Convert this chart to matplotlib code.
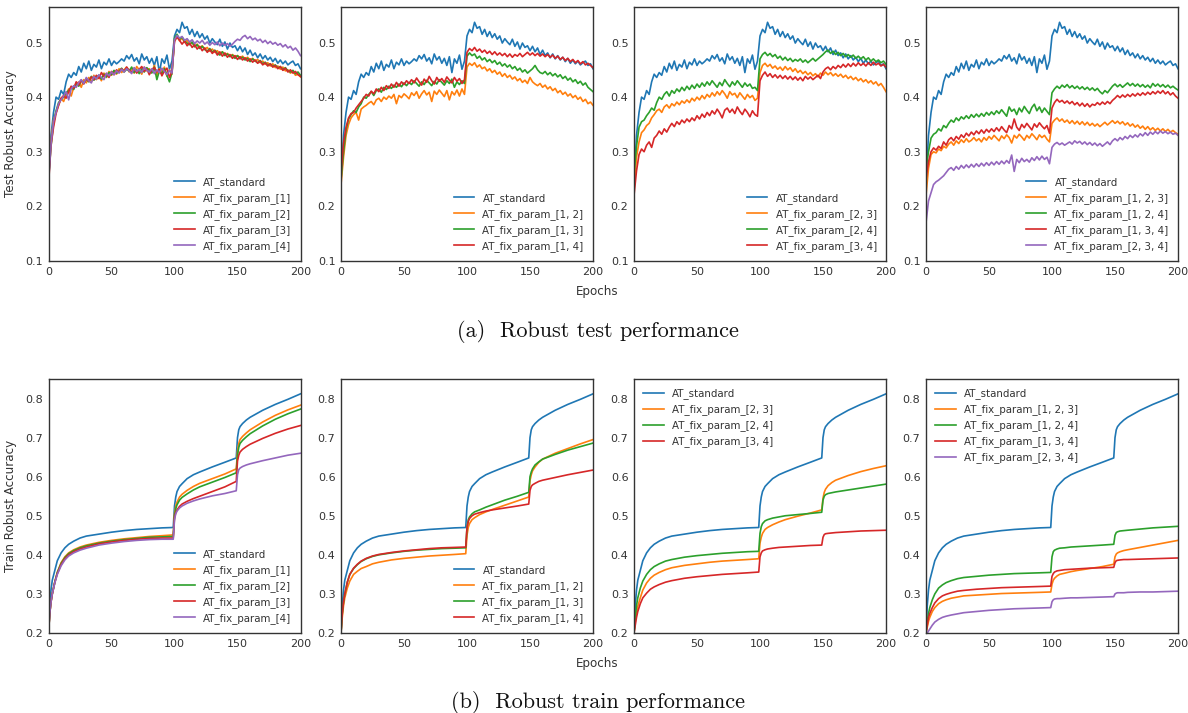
import numpy as np
import matplotlib
matplotlib.use("Agg")
import matplotlib.pyplot as plt

# ---------------- data ----------------
epochs_test = np.arange(0, 201, 2)
epochs_train = [0, 1, 2, 3, 5, 7, 10, 13, 16, 20, 25, 30, 40, 50, 60, 70, 80, 90, 99,
                100, 101, 102, 104, 106, 110, 115, 120, 130, 140, 149,
                150, 151, 152, 154, 157, 160, 170, 180, 190, 200]

test_standard = [
    .245, .330, .372, .400, .396, .412, .405, .428, .442, .436, .445, .440, .456, .446, .462, .452, .466, .449, .460, .455,
    .468, .452, .464, .459, .470, .458, .466, .461, .465, .470, .466, .476, .470, .478, .466, .472, .461, .479, .468, .474,
    .462, .471, .458, .474, .445, .470, .462, .477, .451, .466,
    .512, .524, .518, .537, .526, .529, .515, .524, .511, .520, .509, .516, .506, .512, .499, .507, .501, .496, .506, .493,
    .501, .488, .499, .491, .494, .485, .493, .483, .490, .478, .486, .476, .481, .472, .479, .470, .476, .468, .473, .465,
    .471, .462, .468, .461, .466, .459, .463, .466, .458, .461, .452]

test_fix_1 = [
    .265, .320, .358, .372, .385, .398, .392, .405, .415, .402, .418, .422, .428, .418, .432, .426, .436, .428, .440, .432,
    .438, .430, .444, .436, .447, .440, .448, .442, .452, .445, .450, .455, .446, .452, .444, .456, .450, .442, .455, .448,
    .452, .446, .458, .440, .452, .447, .455, .438, .450, .442,
    .505, .512, .503, .508, .500, .504, .497, .500, .493, .497, .490, .494, .488, .491, .484, .488, .482, .485, .479, .483,
    .477, .480, .475, .478, .474, .476, .472, .475, .470, .473, .468, .471, .466, .469, .463, .466, .460, .463, .457, .461,
    .454, .457, .451, .455, .448, .450, .444, .447, .440, .442, .437]

test_fix_2 = [
    .250, .310, .352, .375, .390, .396, .400, .408, .412, .418, .414, .425, .420, .430, .426, .433, .428, .438, .431, .436,
    .440, .433, .442, .437, .445, .441, .449, .444, .447, .453, .446, .451, .448, .455, .445, .450, .443, .452, .446, .454,
    .449, .444, .455, .432, .448, .443, .452, .440, .428, .445,
    .508, .515, .506, .510, .502, .499, .496, .501, .492, .496, .489, .493, .487, .484, .489, .482, .486, .480, .477, .483,
    .476, .479, .474, .477, .471, .476, .470, .473, .468, .471, .465, .470, .466, .463, .467, .461, .464, .458, .461, .456,
    .459, .453, .456, .450, .454, .448, .446, .449, .443, .446, .440]

test_fix_3 = [
    .240, .312, .345, .370, .385, .398, .403, .398, .410, .420, .416, .428, .422, .431, .424, .434, .429, .437, .432, .440,
    .434, .445, .438, .443, .436, .447, .441, .450, .445, .452, .447, .455, .449, .446, .453, .444, .451, .456, .447, .452,
    .441, .450, .454, .446, .451, .439, .448, .453, .436, .447,
    .502, .510, .504, .497, .503, .494, .499, .491, .496, .488, .493, .485, .490, .482, .487, .480, .485, .477, .483, .475,
    .481, .473, .478, .471, .476, .469, .474, .468, .472, .466, .470, .464, .468, .462, .466, .459, .463, .457, .461, .455,
    .458, .452, .456, .449, .453, .446, .450, .444, .447, .441, .438]

test_fix_4 = [
    .245, .315, .355, .372, .388, .395, .402, .410, .395, .415, .421, .418, .427, .432, .425, .436, .430, .426, .438, .433,
    .441, .436, .432, .444, .439, .446, .441, .448, .444, .451, .446, .452, .448, .443, .454, .447, .451, .445, .455, .449,
    .446, .452, .443, .450, .445, .453, .447, .441, .449, .444,
    .505, .513, .508, .511, .504, .507, .501, .505, .498, .503, .499, .504, .497, .501, .495, .500, .496, .501, .494, .499,
    .495, .498, .493, .497, .502, .506, .504, .510, .513, .507, .511, .505, .508, .503, .506, .500, .504, .498, .502, .497,
    .500, .495, .498, .492, .496, .490, .493, .486, .490, .484, .476]

test_fix_12 = [
    .240, .290, .330, .350, .362, .368, .372, .358, .378, .382, .385, .389, .392, .386, .395, .398, .392, .400, .396, .402,
    .398, .405, .388, .403, .399, .406, .402, .397, .408, .403, .410, .398, .406, .412, .404, .409, .392, .411, .405, .413,
    .407, .401, .412, .395, .410, .404, .413, .402, .415, .405,
    .455, .462, .458, .463, .455, .459, .452, .455, .448, .452, .445, .449, .442, .446, .438, .443, .436, .440, .433, .437,
    .430, .434, .427, .431, .425, .436, .428, .424, .421, .425, .418, .422, .415, .419, .412, .416, .408, .412, .405, .409,
    .402, .406, .399, .403, .396, .400, .392, .396, .388, .391, .385]

test_fix_13 = [
    .250, .300, .340, .360, .368, .375, .372, .382, .388, .400, .398, .405, .410, .403, .412, .415, .409, .418, .414, .420,
    .416, .422, .418, .424, .419, .426, .421, .427, .423, .430, .425, .420, .428, .423, .431, .426, .421, .429, .424, .432,
    .427, .422, .430, .425, .433, .418, .428, .423, .430, .425,
    .475, .481, .476, .479, .471, .475, .468, .472, .465, .469, .463, .467, .460, .464, .457, .461, .455, .459, .452, .456,
    .449, .453, .446, .450, .444, .448, .452, .458, .450, .445, .443, .447, .441, .445, .439, .443, .437, .441, .434, .438,
    .431, .435, .428, .432, .425, .429, .422, .426, .418, .414, .410]

test_fix_14 = [
    .260, .315, .345, .362, .370, .372, .380, .386, .392, .398, .405, .402, .411, .406, .415, .410, .418, .412, .421, .416,
    .424, .418, .427, .420, .428, .423, .430, .425, .432, .426, .435, .428, .422, .433, .427, .438, .430, .424, .436, .429,
    .434, .427, .437, .431, .426, .436, .429, .434, .425, .432,
    .482, .489, .485, .491, .484, .488, .482, .486, .480, .484, .478, .483, .477, .481, .476, .480, .474, .479, .473, .478,
    .475, .480, .474, .478, .482, .477, .481, .476, .480, .475, .479, .474, .478, .473, .477, .471, .475, .469, .473, .467,
    .471, .465, .469, .463, .467, .461, .465, .459, .462, .458, .454]

test_fix_23 = [
    .230, .290, .318, .335, .340, .348, .352, .362, .368, .375, .378, .372, .382, .386, .380, .388, .384, .391, .386, .393,
    .389, .395, .390, .398, .393, .400, .395, .403, .397, .405, .400, .408, .402, .410, .404, .412, .406, .398, .410, .404,
    .407, .399, .408, .402, .396, .405, .399, .403, .394, .398,
    .445, .458, .462, .456, .460, .453, .457, .451, .455, .449, .456, .450, .454, .447, .452, .445, .449, .443, .447, .441,
    .445, .439, .443, .437, .444, .440, .446, .441, .445, .439, .443, .438, .442, .436, .440, .434, .438, .432, .436, .430,
    .434, .428, .432, .426, .430, .424, .428, .421, .425, .418, .410]

test_fix_24 = [
    .260, .310, .345, .355, .358, .366, .372, .380, .376, .390, .400, .396, .405, .410, .402, .412, .407, .415, .410, .418,
    .412, .420, .414, .422, .416, .424, .418, .426, .420, .428, .422, .430, .424, .418, .427, .421, .432, .425, .419, .428,
    .422, .430, .424, .418, .426, .420, .424, .416, .418, .412,
    .470, .478, .482, .476, .480, .474, .478, .471, .475, .468, .473, .467, .471, .465, .469, .466, .470, .464, .468, .463,
    .467, .471, .466, .470, .474, .478, .483, .486, .480, .484, .478, .482, .476, .480, .474, .478, .473, .477, .471, .475,
    .470, .474, .468, .472, .466, .470, .465, .468, .463, .466, .460]

test_fix_34 = [
    .220, .265, .295, .305, .300, .312, .318, .308, .325, .330, .338, .332, .342, .336, .345, .352, .346, .355, .350, .358,
    .353, .360, .355, .362, .357, .366, .360, .369, .363, .372, .366, .375, .369, .378, .371, .362, .376, .380, .372, .378,
    .370, .382, .374, .368, .378, .372, .364, .375, .368, .365,
    .430, .440, .446, .438, .443, .436, .441, .435, .440, .434, .439, .433, .438, .432, .437, .431, .436, .430, .438, .433,
    .437, .432, .436, .440, .434, .446, .452, .455, .450, .456, .452, .458, .454, .460, .455, .461, .456, .462, .457, .463,
    .458, .462, .457, .463, .458, .464, .459, .462, .457, .460, .455]

test_fix_123 = [
    .220, .270, .295, .300, .298, .305, .302, .310, .307, .314, .318, .312, .320, .315, .322, .317, .324, .318, .321, .326,
    .320, .324, .318, .326, .321, .328, .323, .330, .325, .320, .329, .324, .331, .326, .316, .330, .325, .332, .327, .321,
    .330, .325, .333, .328, .322, .331, .326, .330, .323, .318,
    .352, .358, .362, .356, .360, .354, .358, .352, .357, .351, .356, .350, .355, .349, .354, .348, .352, .347, .351, .346,
    .350, .354, .349, .353, .357, .352, .356, .351, .355, .349, .353, .347, .351, .345, .349, .343, .347, .341, .346, .340,
    .344, .339, .343, .338, .342, .337, .341, .336, .339, .335, .332]

test_fix_124 = [
    .270, .300, .325, .332, .335, .342, .338, .348, .344, .352, .358, .354, .362, .357, .364, .360, .366, .361, .368, .363,
    .369, .364, .370, .365, .372, .367, .373, .368, .375, .370, .377, .371, .365, .382, .374, .378, .368, .380, .373, .383,
    .376, .370, .381, .387, .375, .382, .372, .380, .374, .368,
    .408, .415, .420, .416, .422, .418, .423, .417, .421, .416, .420, .415, .419, .414, .418, .413, .417, .412, .416, .410,
    .406, .412, .408, .414, .420, .424, .419, .423, .418, .422, .426, .421, .425, .420, .424, .419, .423, .418, .422, .417,
    .425, .420, .424, .419, .423, .418, .422, .417, .420, .416, .413]

test_fix_134 = [
    .250, .282, .300, .307, .303, .310, .306, .318, .312, .322, .326, .320, .328, .323, .331, .326, .334, .329, .336, .331,
    .338, .333, .340, .334, .341, .336, .342, .337, .344, .338, .346, .340, .335, .348, .342, .360, .345, .339, .350, .344,
    .352, .346, .340, .351, .345, .353, .347, .342, .348, .334,
    .380, .390, .396, .391, .394, .389, .393, .388, .392, .386, .390, .384, .389, .383, .388, .382, .387, .385, .390, .386,
    .391, .387, .392, .388, .394, .398, .403, .399, .404, .400, .405, .401, .406, .402, .407, .403, .408, .404, .409, .405,
    .410, .406, .411, .407, .412, .406, .410, .404, .408, .402, .398]

test_fix_234 = [
    .170, .210, .225, .240, .245, .248, .252, .256, .262, .268, .271, .266, .273, .268, .275, .270, .276, .271, .277, .272,
    .278, .273, .279, .274, .280, .275, .281, .276, .282, .277, .283, .278, .284, .279, .294, .264, .286, .280, .288, .282,
    .286, .281, .289, .284, .291, .285, .292, .286, .290, .278,
    .308, .314, .317, .313, .316, .312, .315, .318, .314, .320, .316, .319, .314, .318, .313, .317, .312, .316, .311, .315,
    .310, .314, .318, .313, .320, .324, .320, .326, .322, .328, .324, .330, .326, .331, .327, .333, .329, .335, .330, .336,
    .332, .337, .333, .338, .334, .337, .333, .336, .332, .334, .330]

train_standard = [.200, .270, .310, .335, .360, .385, .405, .418, .427, .435, .443, .448, .453, .458, .462, .465, .467, .469, .470,
                  .525, .548, .562, .575, .582, .595, .605, .612, .625, .637, .648,
                  .700, .720, .728, .736, .745, .752, .770, .785, .798, .812]
train_fix_1 = [.200, .250, .280, .300, .330, .355, .380, .395, .405, .413, .420, .425, .432, .437, .441, .444, .447, .449, .451,
               .505, .525, .535, .548, .555, .565, .575, .583, .595, .607, .620,
               .665, .685, .695, .703, .712, .720, .740, .757, .771, .783]
train_fix_2 = [.200, .250, .280, .300, .330, .355, .378, .393, .403, .411, .418, .423, .430, .435, .439, .442, .445, .446, .447,
               .500, .518, .528, .540, .547, .556, .566, .574, .586, .598, .610,
               .655, .675, .685, .693, .702, .710, .730, .747, .761, .773]
train_fix_3 = [.200, .250, .280, .300, .330, .352, .375, .390, .400, .408, .415, .420, .428, .433, .437, .440, .442, .443, .443,
               .495, .508, .515, .524, .530, .537, .544, .550, .562, .574, .588,
               .640, .655, .663, .670, .677, .683, .698, .711, .722, .731]
train_fix_4 = [.200, .250, .280, .300, .328, .350, .372, .387, .397, .405, .412, .417, .425, .430, .434, .437, .439, .440, .440,
               .490, .505, .512, .520, .525, .532, .538, .543, .551, .557, .564,
               .605, .618, .622, .626, .630, .633, .641, .648, .655, .660]
train_fix_12 = [.200, .240, .270, .290, .315, .333, .350, .358, .365, .370, .377, .381, .387, .391, .394, .397, .399, .401, .403,
                .450, .470, .480, .490, .495, .503, .510, .516, .527, .538, .548,
                .590, .605, .615, .625, .637, .645, .660, .672, .684, .695]
train_fix_13 = [.200, .250, .280, .300, .330, .350, .365, .375, .383, .390, .396, .400, .405, .409, .412, .414, .416, .417, .418,
                .470, .490, .497, .505, .510, .515, .522, .528, .540, .550, .560,
                .600, .612, .620, .630, .638, .645, .657, .668, .677, .686]
train_fix_14 = [.200, .250, .280, .300, .330, .350, .366, .376, .384, .391, .397, .401, .406, .410, .413, .416, .418, .419, .420,
                .470, .485, .493, .500, .504, .508, .512, .515, .520, .525, .530,
                .565, .575, .579, .583, .588, .591, .598, .605, .611, .617]
train_fix_23 = [.200, .230, .250, .268, .290, .310, .328, .340, .348, .355, .362, .367, .373, .377, .381, .384, .386, .388, .390,
                .430, .445, .455, .465, .470, .477, .484, .490, .499, .507, .515,
                .545, .560, .568, .577, .585, .591, .603, .613, .621, .628]
train_fix_24 = [.200, .240, .270, .290, .315, .333, .350, .362, .370, .377, .384, .388, .394, .398, .401, .404, .406, .408, .409,
                .455, .472, .480, .487, .490, .494, .497, .500, .503, .506, .509,
                .540, .550, .554, .557, .559, .561, .566, .571, .576, .581]
train_fix_34 = [.200, .220, .240, .255, .275, .290, .302, .312, .318, .324, .330, .334, .340, .344, .347, .350, .352, .354, .356,
                .395, .405, .410, .413, .415, .417, .419, .420, .422, .424, .425,
                .445, .452, .454, .455, .456, .457, .459, .461, .462, .463]
train_fix_123 = [.200, .215, .230, .240, .255, .265, .275, .281, .285, .289, .292, .295, .297, .299, .301, .302, .303, .304, .305,
                 .325, .335, .340, .346, .350, .353, .357, .360, .365, .370, .376,
                 .395, .402, .405, .408, .411, .413, .419, .425, .431, .437]
train_fix_124 = [.200, .230, .250, .265, .285, .300, .315, .323, .329, .334, .339, .342, .345, .348, .350, .352, .353, .354, .355,
                 .395, .408, .412, .415, .417, .418, .420, .421, .423, .425, .427,
                 .450, .457, .459, .461, .462, .463, .466, .469, .471, .473]
train_fix_134 = [.200, .220, .240, .250, .265, .277, .288, .295, .299, .303, .307, .309, .312, .314, .316, .317, .318, .319, .320,
                 .345, .352, .356, .359, .360, .362, .363, .364, .366, .367, .368,
                 .380, .385, .386, .387, .388, .388, .389, .390, .391, .392]
train_fix_234 = [.190, .200, .205, .210, .220, .228, .235, .240, .243, .246, .249, .252, .255, .258, .260, .262, .263, .264, .265,
                 .280, .285, .287, .288, .288, .289, .290, .290, .291, .292, .293,
                 .300, .302, .303, .303, .303, .304, .305, .305, .306, .307]

test_panels = [
    [("AT_standard", test_standard), ("AT_fix_param_[1]", test_fix_1), ("AT_fix_param_[2]", test_fix_2),
     ("AT_fix_param_[3]", test_fix_3), ("AT_fix_param_[4]", test_fix_4)],
    [("AT_standard", test_standard), ("AT_fix_param_[1, 2]", test_fix_12), ("AT_fix_param_[1, 3]", test_fix_13),
     ("AT_fix_param_[1, 4]", test_fix_14)],
    [("AT_standard", test_standard), ("AT_fix_param_[2, 3]", test_fix_23), ("AT_fix_param_[2, 4]", test_fix_24),
     ("AT_fix_param_[3, 4]", test_fix_34)],
    [("AT_standard", test_standard), ("AT_fix_param_[1, 2, 3]", test_fix_123), ("AT_fix_param_[1, 2, 4]", test_fix_124),
     ("AT_fix_param_[1, 3, 4]", test_fix_134), ("AT_fix_param_[2, 3, 4]", test_fix_234)],
]
train_panels = [
    [("AT_standard", train_standard), ("AT_fix_param_[1]", train_fix_1), ("AT_fix_param_[2]", train_fix_2),
     ("AT_fix_param_[3]", train_fix_3), ("AT_fix_param_[4]", train_fix_4)],
    [("AT_standard", train_standard), ("AT_fix_param_[1, 2]", train_fix_12), ("AT_fix_param_[1, 3]", train_fix_13),
     ("AT_fix_param_[1, 4]", train_fix_14)],
    [("AT_standard", train_standard), ("AT_fix_param_[2, 3]", train_fix_23), ("AT_fix_param_[2, 4]", train_fix_24),
     ("AT_fix_param_[3, 4]", train_fix_34)],
    [("AT_standard", train_standard), ("AT_fix_param_[1, 2, 3]", train_fix_123), ("AT_fix_param_[1, 2, 4]", train_fix_124),
     ("AT_fix_param_[1, 3, 4]", train_fix_134), ("AT_fix_param_[2, 3, 4]", train_fix_234)],
]
train_legend_loc = ["lower right", "lower right", "upper left", "upper left"]

colors = ["#1f77b4", "#ff7f0e", "#2ca02c", "#d62728", "#9467bd"]

# ---------------- figure ----------------
W, H = 1188, 713
fig = plt.figure(figsize=(W / 100, H / 100), dpi=100)
txt_col = "#333333"
plt.rcParams["font.family"] = "DejaVu Sans"

col_left = [48.5, 341, 634, 926]
col_w = 252
row_top = [7, 379]
row_h = 254


def make_ax(col, row):
    l = col_left[col] / W
    b = 1 - (row_top[row] + row_h) / H
    ax = fig.add_axes([l, b, col_w / W, row_h / H])
    for s in ax.spines.values():
        s.set_color("#333333")
        s.set_linewidth(1.0)
    ax.tick_params(length=0, labelsize=8, colors=txt_col, pad=4)
    ax.set_xlim(0, 200)
    ax.set_xticks([0, 50, 100, 150, 200])
    return ax


for c, series in enumerate(test_panels):
    ax = make_ax(c, 0)
    for k, (name, vals) in enumerate(series):
        ax.plot(2 * np.arange(len(vals)), vals, color=colors[k], lw=1.2, label=name)
    ax.set_ylim(0.1, 0.565)
    ax.set_yticks([0.1, 0.2, 0.3, 0.4, 0.5])
    ax.legend(loc="lower right", frameon=False, fontsize=7.4, labelcolor=txt_col)
    if c == 0:
        ax.set_ylabel("Test Robust Accuracy", fontsize=8.6, color=txt_col, labelpad=6)

for c, series in enumerate(train_panels):
    ax = make_ax(c, 1)
    for k, (name, vals) in enumerate(series):
        ax.plot(epochs_train, vals, color=colors[k], lw=1.2, label=name)
    ax.set_ylim(0.2, 0.85)
    ax.set_yticks([0.2, 0.3, 0.4, 0.5, 0.6, 0.7, 0.8])
    ax.legend(loc=train_legend_loc[c], frameon=False, fontsize=7.4, labelcolor=txt_col)
    if c == 0:
        ax.set_ylabel("Train Robust Accuracy", fontsize=8.6, color=txt_col, labelpad=6)

fig.text(597 / W, 1 - 291 / H, "Epochs", ha="center", va="center", fontsize=8.6, color=txt_col)
fig.text(597 / W, 1 - 663 / H, "Epochs", ha="center", va="center", fontsize=8.6, color=txt_col)

fig.text(598 / W, 1 - 331 / H, "(a)  Robust test performance", ha="center", va="center",
         fontsize=16, family="cmr10", color="#111111")
fig.text(598 / W, 1 - 702 / H, "(b)  Robust train performance", ha="center", va="center",
         fontsize=16, family="cmr10", color="#111111")

fig.savefig("out.png", dpi=100)
